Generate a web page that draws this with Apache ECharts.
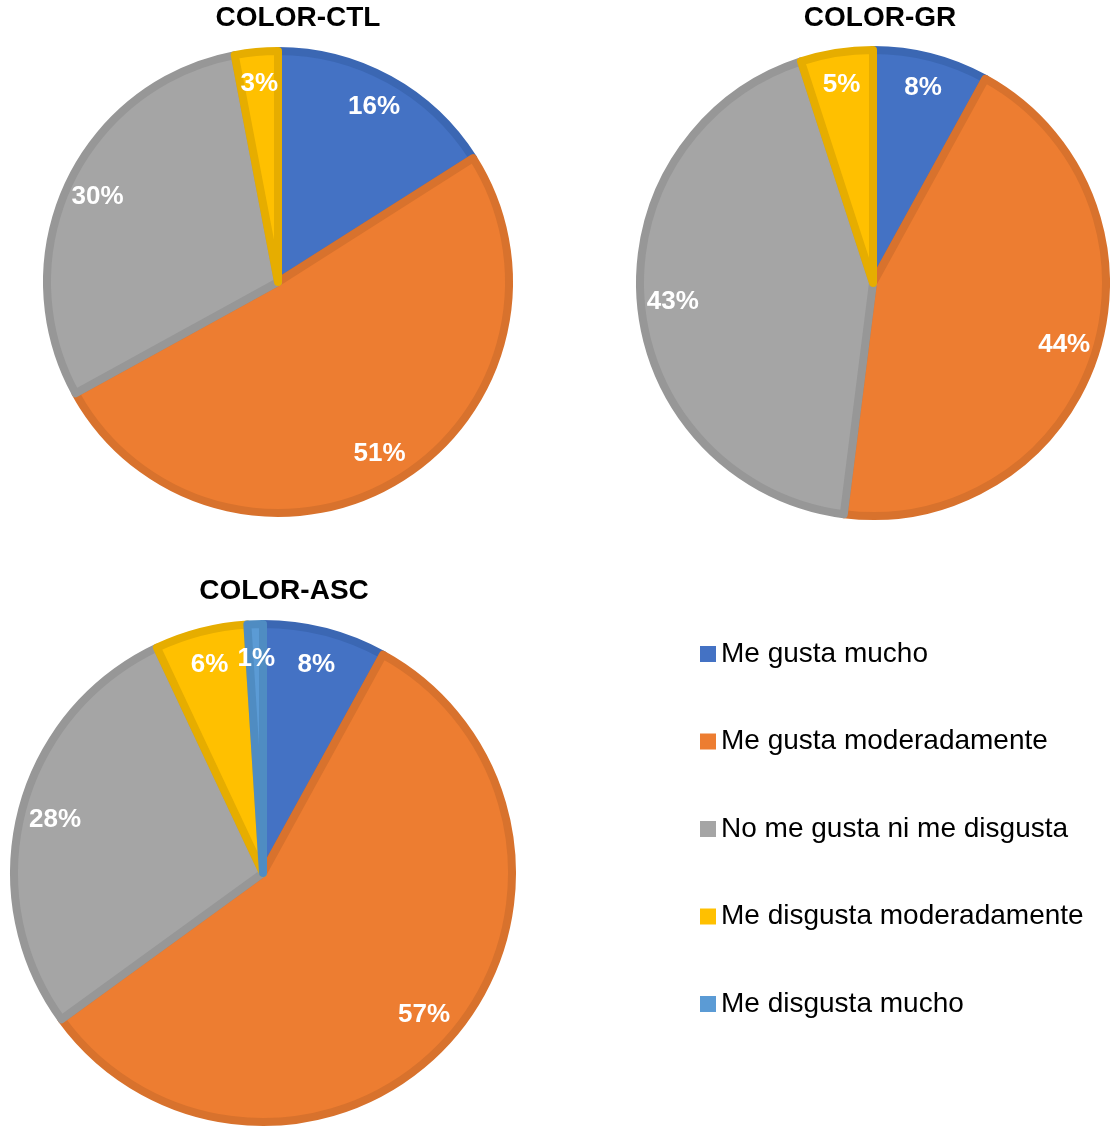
<!DOCTYPE html>
<html>
<head>
<meta charset="utf-8">
<script src="https://cdn.jsdelivr.net/npm/echarts@6/dist/echarts.min.js"></script>
<style>
	html, body { margin: 0; padding: 0; background: #fff; }
	#chart { width: 1110px; height: 1130px; }
</style>
</head>
<body>
<div id="chart"></div>
<script>
	const categories = ['Me gusta mucho', 'Me gusta moderadamente', 'No me gusta ni me disgusta', 'Me disgusta moderadamente', 'Me disgusta mucho']
	const fills = ['#4472C4', '#ED7D31', '#A5A5A5', '#FFC000', '#5B9BD5']
	const borders = ['#3B67B3', '#D8722D', '#979797', '#E6AD00', '#4F8CC2']

	const titles = ['COLOR-CTL', 'COLOR-GR', 'COLOR-ASC']
	// percentages, clockwise from 12 o'clock
	const ctlValues = [16, 51, 30, 3]
	const grValues = [8, 44, 43, 5]
	const ascValues = [8, 57, 28, 6, 1]

	const font = '"Liberation Sans", Arial, sans-serif'

	const pies = [
		{ values: ctlValues, center: [278, 282], radius: 231, title: [298, 4] },
		{ values: grValues, center: [873, 283], radius: 233, title: [880, 4] },
		{ values: ascValues, center: [263, 873], radius: 249, title: [284, 577] }
	]

	function toData(values) {
		return values.map((v, i) => ({
			name: categories[i],
			value: v,
			itemStyle: { color: fills[i], borderColor: borders[i], borderWidth: 8 }
		}))
	}

	const series = []
	// visible slices
	pies.forEach(p => {
		series.push({
			type: 'pie',
			center: p.center,
			radius: [0, p.radius],
			startAngle: 90,
			clockwise: true,
			animation: false,
			label: { show: false },
			labelLine: { show: false },
			emphasis: { scale: false },
			data: toData(p.values)
		})
	})
	// transparent ring used only to place the percent labels near the rim
	pies.forEach(p => {
		series.push({
			type: 'pie',
			center: p.center,
			radius: [p.radius * 0.7, p.radius],
			startAngle: 90,
			clockwise: true,
			animation: false,
			silent: true,
			avoidLabelOverlap: false,
			label: {
				show: true,
				position: 'inside',
				formatter: '{c}%',
				color: '#fff',
				fontSize: 26,
				fontWeight: 'bold',
				fontFamily: font
			},
			labelLine: { show: false },
			itemStyle: { color: 'transparent', borderWidth: 0 },
			data: p.values.map((v, i) => ({ name: categories[i], value: v }))
		})
	})

	const chart = echarts.init(document.getElementById('chart'))
	chart.setOption({
		backgroundColor: '#fff',
		title: pies.map((p, i) => ({
			text: titles[i],
			left: p.title[0],
			top: p.title[1],
			padding: 0,
			textAlign: 'center',
			textStyle: { fontSize: 28, fontWeight: 'bold', color: '#000', fontFamily: font }
		})),
		legend: {
			orient: 'vertical',
			left: 700,
			top: 639,
			padding: 0,
			data: categories,
			itemWidth: 16,
			itemHeight: 16,
			itemGap: 57.5,
			icon: 'rect',
			itemStyle: { borderWidth: 0 },
			selectedMode: false,
			textStyle: { fontSize: 28, color: '#000', fontFamily: font, lineHeight: 30 }
		},
		series: series
	})
</script>
</body>
</html>
